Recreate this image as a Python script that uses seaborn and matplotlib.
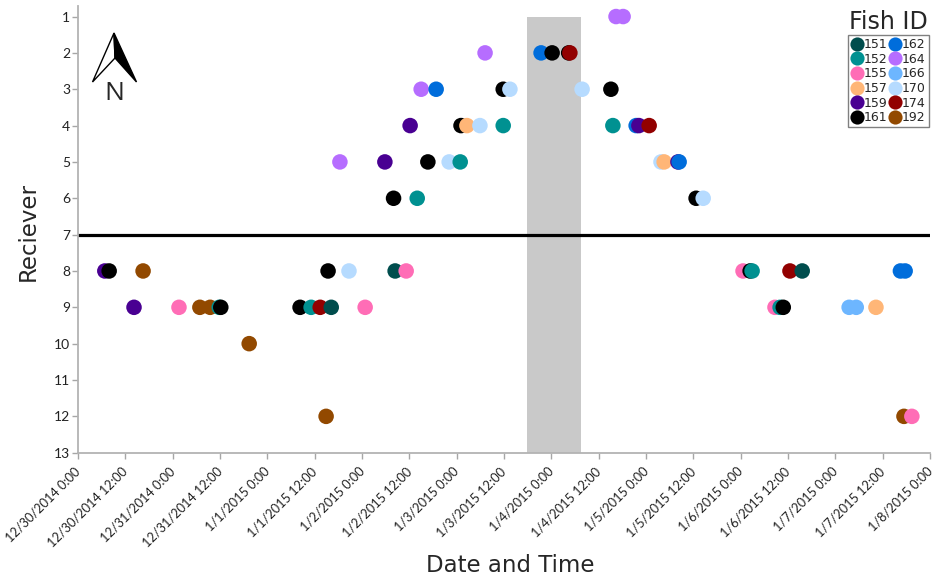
import numpy as np
import pandas as pd
import matplotlib
matplotlib.use("Agg")
import matplotlib.pyplot as plt
from matplotlib.patches import Polygon
from matplotlib.transforms import ScaledTranslation
import seaborn as sns

# (hours since 12/30/2014 0:00, receiver) for every fish
fish_151 = [(80.4, 8), (64.2, 9), (183.6, 8)]
fish_152 = [(96.9, 5), (86.0, 6), (107.8, 4), (135.6, 4), (35.8, 9), (59.1, 9), (170.9, 8), (178.0, 9)]
fish_155 = [(25.6, 9), (72.8, 9), (83.2, 8), (168.6, 8), (176.7, 9), (211.4, 12)]
fish_157 = [(98.6, 4), (148.6, 5), (202.3, 9)]
fish_159 = [(84.2, 4), (77.8, 5), (6.8, 8), (14.2, 9), (142.2, 4), (152.1, 5)]
fish_161 = [(7.9, 8), (36.2, 9), (56.3, 9), (63.4, 8), (80.0, 6), (88.7, 5), (97.1, 4), (107.8, 3),
            (120.2, 2), (124.4, 2), (135.1, 3), (156.7, 6), (170.4, 8), (178.8, 9)]
fish_162 = [(90.8, 3), (117.4, 2), (141.5, 4), (152.4, 5), (208.5, 8), (209.7, 8)]
fish_164 = [(66.4, 5), (87.0, 3), (103.2, 2), (136.4, 1), (138.2, 1)]
fish_166 = [(195.5, 9), (197.3, 9)]
fish_170 = [(68.7, 8), (94.1, 5), (101.9, 4), (109.5, 3), (127.8, 3), (147.8, 5), (158.5, 6)]
fish_174 = [(61.4, 9), (124.7, 2), (144.8, 4), (180.5, 8)]
fish_192 = [(16.5, 8), (30.9, 9), (33.5, 9), (43.4, 10), (62.9, 12), (209.4, 12)]

fish_ids = ["151", "152", "155", "157", "159", "161", "162", "164", "166", "170", "174", "192"]
fish_colors = ["#004d4d", "#009191", "#ff6db6", "#ffb677", "#490092", "#000000",
               "#006ddb", "#b66dff", "#6db6ff", "#b6dbff", "#920000", "#924900"]
fish_data = [fish_151, fish_152, fish_155, fish_157, fish_159, fish_161,
             fish_162, fish_164, fish_166, fish_170, fish_174, fish_192]

tick_labels = ["12/30/2014 0:00", "12/30/2014 12:00", "12/31/2014 0:00", "12/31/2014 12:00",
               "1/1/2015 0:00", "1/1/2015 12:00", "1/2/2015 0:00", "1/2/2015 12:00",
               "1/3/2015 0:00", "1/3/2015 12:00", "1/4/2015 0:00", "1/4/2015 12:00",
               "1/5/2015 0:00", "1/5/2015 12:00", "1/6/2015 0:00", "1/6/2015 12:00",
               "1/7/2015 0:00", "1/7/2015 12:00", "1/8/2015 0:00"]
receivers = list(range(1, 14))
band_hours = (113.8, 127.5)
divider_receiver = 7

start = pd.Timestamp("2014-12-30 00:00")
rows = [(start + pd.Timedelta(hours=h), r, f)
        for f, pts in zip(fish_ids, fish_data) for h, r in pts]
df = pd.DataFrame(rows, columns=["time", "receiver", "fish"]).sort_values("time")

W, H = 936, 579
sns.set_theme(style="white")
fig = plt.figure(figsize=(W / 100, H / 100), dpi=100, facecolor="white")
ax = fig.add_axes([78 / W, 1 - 452.7 / H, (930 - 78) / W, (452.7 - 6) / H])

sns.scatterplot(data=df, x="time", y="receiver", hue="fish", hue_order=fish_ids,
                palette=dict(zip(fish_ids, fish_colors)), s=125, linewidth=0,
                ax=ax, clip_on=False, zorder=3)

tick_dates = pd.to_datetime(tick_labels, format="%m/%d/%Y %H:%M")
ax.set_xlim(tick_dates[0], tick_dates[-1])
ax.set_ylim(13, 0.71)

ax.fill_between([start + pd.Timedelta(hours=band_hours[0]), start + pd.Timedelta(hours=band_hours[1])],
                1, 13, color="#c9c9c9", linewidth=0, zorder=1)
ax.axhline(divider_receiver, color="black", lw=2.3, zorder=2)

ax.set_xticks(tick_dates, labels=tick_labels, rotation=45, ha="right", rotation_mode="anchor",
              fontsize=9.2, family="Lato", color="#222222")
ax.set_yticks(receivers, labels=[str(r) for r in receivers], fontsize=10, family="Lato", color="#222222")
ax.tick_params(axis="both", length=4, width=1, color="#a6a6a6", bottom=True, left=True)
ax.tick_params(axis="x", pad=5)
ax.tick_params(axis="y", pad=1.5)
shift = ScaledTranslation(-4 / 100, 0, fig.dpi_scale_trans)
for lab in ax.get_xticklabels():
    lab.set_transform(lab.get_transform() + shift)
for s in ["top", "right"]:
    ax.spines[s].set_visible(False)
for s in ["left", "bottom"]:
    ax.spines[s].set_color("#b3b3b3")
    ax.spines[s].set_linewidth(1.3)
ax.set_xlabel("")
ax.set_ylabel("")
fig.text(510 / W, 1 - 565 / H, "Date and Time", ha="center", va="center", fontsize=16.5, family="DejaVu Sans")
fig.text(28 / W, 1 - 232 / H, "Reciever", ha="center", va="center", rotation=90, fontsize=16.5, family="DejaVu Sans")

sns.move_legend(ax, "upper right", bbox_to_anchor=(929 / W, 1 - 35 / H), bbox_transform=fig.transFigure,
                ncol=2, title=None, frameon=True, fancybox=False, framealpha=1, edgecolor="#808080",
                fontsize=9, labelspacing=0.13, columnspacing=0.16, handletextpad=0.1, handlelength=0.9,
                borderpad=0.25, borderaxespad=0)
leg = ax.get_legend()
leg.get_frame().set_linewidth(1)
for h in leg.legend_handles:
    h.set_markersize(10.2)
fig.text(888.5 / W, 1 - 22 / H, "Fish ID", ha="center", va="center", fontsize=17, family="DejaVu Sans")

def fp(pts):
    return [(x / W, 1 - y / H) for x, y in pts]
fig.add_artist(Polygon(fp([(114, 33), (92.5, 82), (115, 58)]), closed=True, fc="white", ec="black", lw=1,
                       transform=fig.transFigure))
fig.add_artist(Polygon(fp([(114, 33), (136.5, 82), (115, 58)]), closed=True, fc="black", ec="black", lw=1,
                       transform=fig.transFigure))
fig.text(114 / W, 1 - 94 / H, "N", ha="center", va="center", fontsize=19, family="Open Sans")

fig.savefig("out.png", dpi=100)
